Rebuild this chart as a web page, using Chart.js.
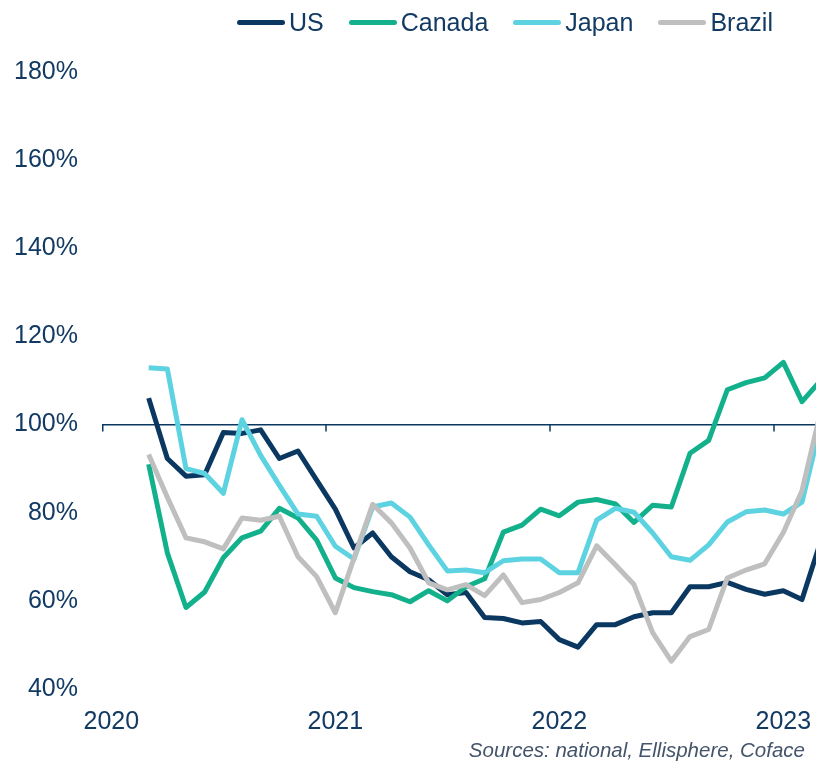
<!DOCTYPE html>
<html>
<head>
<meta charset="utf-8">
<script src="https://cdn.jsdelivr.net/npm/chart.js@4.4.1/dist/chart.umd.min.js"></script>
<style>
  html, body { margin: 0; padding: 0; background: #fff; overflow: hidden; }
  #wrap { position: relative; width: 816px; height: 763px; }
  #legend { position: absolute; left: 237px; top: 8px; display: flex; align-items: center;
            font: 25px "Liberation Sans", Arial, sans-serif; color: #123a63; }
  #legend .item { display: flex; align-items: center; margin-right: 25px; }
  #legend .swatch { width: 48px; height: 5px; border-radius: 3px; margin-right: 4px; }
  #source { position: absolute; right: 11px; top: 738px; line-height: 1; white-space: nowrap;
            font: italic 20.5px "Liberation Sans", Arial, sans-serif; color: #44546a; }
</style>
</head>
<body>
<div id="wrap">
  <canvas id="chart" width="816" height="763"></canvas>
  <div id="legend"></div>
  <div id="source">Sources: national, Ellisphere, Coface</div>
</div>
<script>
// month index: 0 = Jan 2020; series start in March 2020
const firstMonth = 2;
const seriesNames = ['US', 'Canada', 'Japan', 'Brazil'];
const seriesColors = ['#0b3861', '#13b08c', '#5dd3e2', '#bfbfbf'];

const usValues = [106, 92.3, 88.3, 88.6, 98.2, 98, 98.8, 92.3, 94, 87.4, 80.8, 72, 75.4, 70, 66.6, 64.8,
  61.4, 61.9, 56.2, 56, 55, 55.3, 51.2, 49.5, 54.6, 54.6, 56.4, 57.3, 57.3, 63.2, 63.2, 64.2, 62.6, 61.5,
  62.3, 60.3, 73.5];
const canadaValues = [91, 70.9, 58.5, 62, 69.8, 74.3, 75.8, 81, 78.8, 73.8, 65.2, 63, 62.1, 61.4, 59.8,
  62.3, 60, 63.2, 65, 75.6, 77.2, 80.8, 79.3, 82.4, 83, 82, 77.8, 81.7, 81.3, 93.5, 96.4, 107.9, 109.5,
  110.6, 114.1, 105.2, 110];
const japanValues = [112.9, 112.6, 90, 88.9, 84.4, 101.1, 93, 86.2, 79.7, 79.2, 72.4, 69.5, 81.3, 82.2, 79,
  72.7, 66.8, 67, 66.4, 69.1, 69.5, 69.5, 66.4, 66.4, 78.3, 81, 80.1, 75.4, 70, 69.2, 72.7, 77.9, 80.2,
  80.6, 79.7, 82.4, 100];
const brazilValues = [93.2, 83.5, 74.3, 73.4, 71.8, 78.8, 78.3, 79.2, 70, 65.5, 57.3, 69.7, 81.9, 77.7, 72,
  64.1, 62.5, 63.7, 61.2, 65.9, 59.6, 60.3, 61.9, 64.1, 72.5, 68.2, 63.7, 52.8, 46.3, 51.9, 53.5, 65.2,
  67, 68.4, 75.5, 85, 103];

const yearLabels = ['2020', '2021', '2022', '2023'];
const yearTickMonths = [0, 12, 24, 36];
const yearBoundaries = [-0.5, 11.5, 23.5, 35.5];
const yTicks = [40, 60, 80, 100, 120, 140, 160, 180];

const textColor = '#123a63';
const allValues = [usValues, canadaValues, japanValues, brazilValues];

function toPoints(values) {
  return values.map((v, i) => ({ x: firstMonth + i, y: v }));
}

// small tick marks hanging under the 100% line at each year start
const yearMarks = {
  id: 'yearMarks',
  beforeDatasetsDraw(chart) {
    const xs = chart.scales.x, ys = chart.scales.y, ctx = chart.ctx;
    const y0 = ys.getPixelForValue(100);
    ctx.save();
    ctx.strokeStyle = '#0b3861';
    ctx.lineWidth = 1.5;
    yearBoundaries.forEach(v => {
      const px = Math.max(xs.getPixelForValue(v), chart.chartArea.left + 0.75);
      ctx.beginPath();
      ctx.moveTo(px, y0);
      ctx.lineTo(px, y0 + 7);
      ctx.stroke();
    });
    ctx.restore();
  }
};

const legendEl = document.getElementById('legend');
seriesNames.forEach((name, i) => {
  const item = document.createElement('div');
  item.className = 'item';
  item.innerHTML = '<span class="swatch" style="background:' + seriesColors[i] + '"></span><span>' + name + '</span>';
  legendEl.appendChild(item);
});

new Chart(document.getElementById('chart'), {
  type: 'line',
  data: {
    datasets: seriesNames.map((name, i) => ({
      label: name,
      data: toPoints(allValues[i]),
      borderColor: seriesColors[i],
      backgroundColor: seriesColors[i],
      borderWidth: 5,
      pointRadius: 0,
      tension: 0,
      borderJoinStyle: 'round',
      order: seriesNames.length - i
    }))
  },
  options: {
    responsive: false,
    animation: false,
    layout: { padding: { top: 72, right: 0, bottom: 29, left: 0 } },
    plugins: {
      legend: { display: false },
      tooltip: { enabled: false }
    },
    scales: {
      x: {
        type: 'linear',
        min: -0.5,
        max: 37.75,
        afterBuildTicks: s => { s.ticks = yearTickMonths.map(v => ({ value: v })); },
        afterFit: s => { s.height = 45; s.paddingLeft = 0; s.paddingRight = 0; },
        ticks: {
          autoSkip: false,
          maxRotation: 0,
          padding: 18,
          color: textColor,
          font: { family: '"Liberation Sans", Arial, sans-serif', size: 25 },
          callback: v => yearLabels[yearTickMonths.indexOf(v)]
        },
        grid: { display: false, drawTicks: false },
        border: { display: false }
      },
      y: {
        min: 40,
        max: 180,
        afterBuildTicks: s => { s.ticks = yTicks.map(v => ({ value: v })); },
        afterFit: s => { s.width = 102; },
        ticks: {
          padding: 24,
          color: textColor,
          font: { family: '"Liberation Sans", Arial, sans-serif', size: 25 },
          callback: v => v + '%'
        },
        grid: {
          drawTicks: false,
          lineWidth: 1.5,
          color: c => (c.tick && c.tick.value === 100 ? '#0b3861' : 'rgba(0,0,0,0)')
        },
        border: { display: false }
      }
    }
  },
  plugins: [yearMarks]
});
</script>
</body>
</html>
